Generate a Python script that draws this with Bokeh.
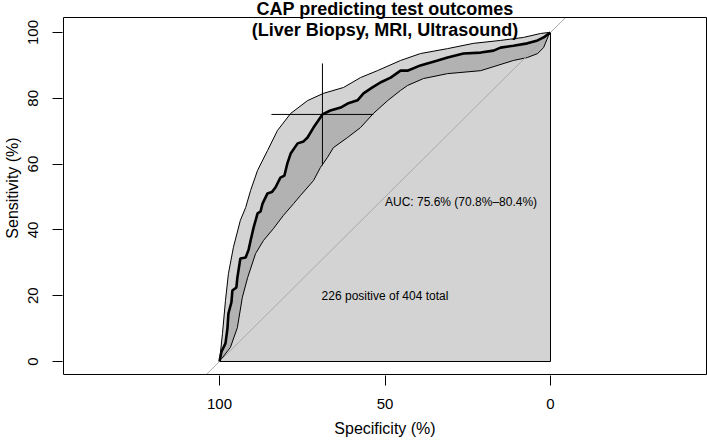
from bokeh.plotting import figure
from bokeh.models import Range1d, FixedTicker, Label, BoxAnnotation
from bokeh.embed import file_html
from bokeh.resources import INLINE

# ---- data ----
title_line1 = "CAP predicting test outcomes"
title_line2 = "(Liver Biopsy, MRI, Ultrasound)"
auc_text = "AUC: 75.6% (70.8%\u201380.4%)"
count_text = "226 positive of 404 total"

x_ticks = [100, 50, 0]
y_ticks = [0, 20, 40, 60, 80, 100]

# ROC curve (specificity %, sensitivity %)
spec_curve = [100, 99.4, 98.2, 97.6, 97.3, 96.4, 96.1, 94.9, 94.6, 93.7, 92.1, 91.2, 90.6, 89.7,
              88.5, 87.6, 87.0, 85.5, 84.2, 83.1, 81.6, 80.4, 79.5, 78.5, 76.4, 74.6, 73.4, 71.6,
              68.9, 66.5, 63.4, 61.3, 58.3, 56.5, 53.8, 51.4, 48.3, 45.3, 43.2, 39.3, 34.1, 31.1,
              26.3, 21.1, 17.2, 15.1, 11.2, 7.0, 3.9, 2.1, 0.6, 0]
sens_curve = [0, 3.0, 5.5, 10.0, 14.6, 18.0, 21.6, 22.5, 25.5, 31.3, 31.6, 34.0, 36.8, 40.7,
              45.0, 45.6, 48.0, 51.1, 51.5, 52.9, 55.9, 56.5, 60.2, 63.2, 66.3, 66.9, 68.1, 71.1,
              75.1, 76.3, 77.2, 78.4, 79.4, 81.5, 83.3, 84.8, 86.3, 88.4, 88.4, 90.0, 91.5, 92.4,
              93.6, 93.9, 94.5, 95.4, 96.0, 96.7, 97.6, 98.5, 99.6, 100]

# CI of sensitivity - upper bound
spec_upper = [100, 99.1, 98.2, 97.3, 95.8, 93.7, 92.1, 90.6, 88.5, 85.5, 82.5, 78.5, 73.4,
              68.6, 62.5, 57.4, 52.3, 45.3, 39.3, 31.1, 23.3, 15.1, 8.2, 3.0, 0.6, 0]
sens_upper = [0, 8.5, 18.5, 26.7, 34.7, 42.9, 46.8, 52.0, 58.1, 64.1, 70.2, 75.4, 79.3,
              81.5, 83.3, 86.3, 88.4, 91.5, 93.6, 95.1, 96.7, 97.6, 98.5, 99.7, 100, 100]

# CI of sensitivity - lower bound
spec_lower = [100, 96.7, 94.6, 93.1, 91.5, 89.1, 86.7, 83.7, 80.7, 77.6, 75.5, 71.6, 69.5,
              67.4, 65.6, 61.3, 57.4, 53.5, 49.2, 45.3, 43.2, 38.4, 31.1, 21.1, 11.2, 7.0,
              3.9, 2.1, 0.6, 0]
sens_lower = [0, 4.3, 10.3, 19.5, 25.5, 32.8, 36.8, 40.4, 44.4, 48.0, 50.5, 55.0, 59.0,
              62.0, 65.0, 68.1, 71.1, 75.4, 79.3, 82.4, 83.9, 86.0, 87.5, 88.4, 91.5, 92.4,
              93.6, 95.4, 99.1, 100]

# best threshold with its CI (crosshair)
thr_spec = 68.9
thr_sens = 75.1
thr_spec_ci = [84.3, 53.5]
thr_sens_ci = [59.6, 90.6]

# plotting region (R style: 4% padding beyond 0..100)
box_x = [147.13, -47.13]
box_y = [-3.95, 104.56]

FONT = "Liberation Sans"

p = figure(width=707, height=441, output_backend="svg", toolbar_location=None,
           x_range=Range1d(147.43, -47.43), y_range=Range1d(-4.255, 109.73),
           min_border_left=62, min_border_right=0, min_border_top=0, min_border_bottom=66,
           background_fill_color="white", border_fill_color="white")
p.xgrid.visible = False
p.ygrid.visible = False
p.outline_line_color = None

# CI band polygon
ci_x = spec_upper + spec_lower[::-1]
ci_y = sens_upper + sens_lower[::-1]
p.patch(ci_x, ci_y, fill_color="#4f4f4f", fill_alpha=0.25, line_color=None)
# AUC polygon
auc_x = spec_curve + [0]
auc_y = sens_curve + [0]
p.patch(auc_x, auc_y, fill_color="#4f4f4f", fill_alpha=0.25, line_color="black", line_width=1)

# CI bound lines
p.line(spec_upper, sens_upper, line_color="black", line_width=1)
p.line(spec_lower, sens_lower, line_color="black", line_width=1)

# chance diagonal (sens = 100 - spec) across the plotting box
p.line([100 - box_y[0], 100 - box_y[1]], [box_y[0], box_y[1]], line_color="#a9a9a9", line_width=1)

# ROC curve
p.line(spec_curve, sens_curve, line_color="black", line_width=2.6)

# threshold crosshair
p.segment(x0=[thr_spec, thr_spec_ci[0]], y0=[thr_sens_ci[0], thr_sens],
          x1=[thr_spec, thr_spec_ci[1]], y1=[thr_sens_ci[1], thr_sens],
          line_color="black", line_width=1)

# plot box
p.add_layout(BoxAnnotation(left=box_x[0], right=box_x[1], bottom=box_y[0], top=box_y[1],
                           fill_alpha=0, line_color="black", line_width=1, line_alpha=1))

# annotations
p.add_layout(Label(x=50, y=48.5, text=auc_text, text_align="left", text_baseline="middle",
                   text_font=FONT, text_font_size="12px", text_color="black"))
p.add_layout(Label(x=50, y=20, text=count_text, text_align="center", text_baseline="middle",
                   text_font=FONT, text_font_size="12px", text_color="black"))
p.add_layout(Label(x=50, y=107.1, text=title_line1, text_align="center", text_baseline="middle",
                   text_font=FONT, text_font_size="18px", text_font_style="bold", text_color="black"))
p.add_layout(Label(x=50, y=100.8, text=title_line2, text_align="center", text_baseline="middle",
                   text_font=FONT, text_font_size="18px", text_font_style="bold", text_color="black"))

# axes
p.xaxis.ticker = FixedTicker(ticks=x_ticks)
p.yaxis.ticker = FixedTicker(ticks=y_ticks)
p.xaxis.axis_label = "Specificity (%)"
p.yaxis.axis_label = "Sensitivity (%)"
for ax in (p.xaxis[0], p.yaxis[0]):
    ax.major_tick_out = 10
    ax.major_tick_in = 0
    ax.minor_tick_line_color = None
    ax.axis_line_color = None
    ax.major_tick_line_color = "black"
    ax.major_label_text_font = FONT
    ax.major_label_text_font_size = "15px"
    ax.major_label_text_color = "black"
    ax.axis_label_text_font = FONT
    ax.axis_label_text_font_size = "16px"
    ax.axis_label_text_font_style = "normal"
    ax.axis_label_text_color = "black"
p.xaxis.major_label_standoff = 13
p.xaxis.axis_label_standoff = 8
p.yaxis.major_label_standoff = 14
p.yaxis.axis_label_standoff = 5
p.yaxis.major_label_orientation = "vertical"

open("out.html", "w").write(file_html(p, INLINE))
